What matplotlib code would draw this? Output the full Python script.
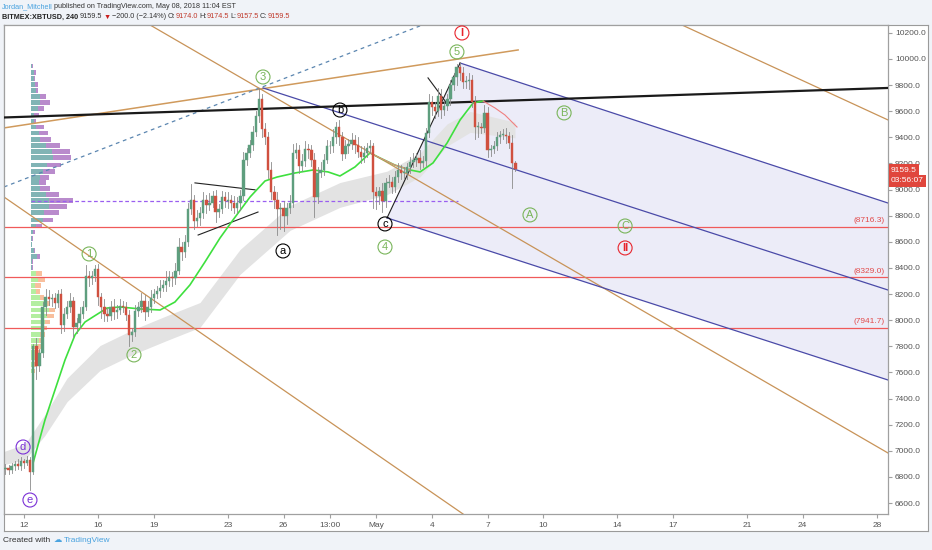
import matplotlib
matplotlib.use("Agg")
import matplotlib.pyplot as plt
from matplotlib.patches import Rectangle
import numpy as np

plt.rcParams["font.family"] = ["Liberation Sans Narrow", "Liberation Sans", "DejaVu Sans"]

# ---- data (x = days since Apr 12, y = price) ----
first_open = 6860
closes = [
    6870, 6850, 6880, 6900, 6880, 6920, 6910, 6930, 6840,
    7800, 7650, 7750, 8100, 8180, 8160, 8170, 8130, 8200, 7960,
    8050, 8100, 8150, 7950, 7980, 8050, 8100, 8340, 8320, 8340,
    8390, 8180, 8100, 8050, 8030, 8100, 8060, 8080, 8110, 8100,
    8040, 7890, 7910, 8070, 8100, 8150, 8060, 8100, 8170, 8200,
    8220, 8250, 8270, 8300, 8330, 8320, 8380, 8560, 8520, 8600,
    8850, 8920, 8760, 8780, 8820, 8920, 8880, 8900, 8950, 8830,
    8850, 8940, 8910, 8920, 8900, 8860, 8900, 8950, 9230, 9280,
    9340, 9440, 9560, 9690, 9460, 9400, 9150, 8980, 8920, 8850,
    8860, 8800, 8860, 8900, 9280, 9300, 9180, 9220, 9310, 9300,
    9230, 8940, 9130, 9150, 9230, 9330, 9330, 9400, 9480, 9400,
    9270, 9330, 9350, 9380, 9340, 9290, 9250, 9280, 9320, 9330,
    8980, 8950, 8990, 8910, 9050, 9060, 9020, 9100, 9150, 9130,
    9130, 9170, 9210, 9230, 9240, 9200, 9220, 9430, 9670, 9630,
    9600, 9720, 9610, 9640, 9690, 9800, 9860, 9940, 9890, 9820,
    9830, 9840, 9670, 9480, 9480, 9470, 9590, 9300, 9310, 9330,
    9400, 9420, 9420, 9410, 9360, 9200, 9159.5,
]
wick_up = [
    30, 20, 30, 20, 40, 30, 20, 30, 20,
    20, 60, 30, 40, 60, 50, 30, 40, 30, 40,
    40, 50, 60, 30, 40, 50, 50, 80, 40, 40,
    30, 40, 30, 60, 40, 50, 60, 40, 50, 40,
    40, 40, 30, 50, 40, 60, 40, 50, 60, 40,
    40, 60, 40, 80, 50, 40, 60, 70, 40, 50,
    50, 120, 40, 60, 50, 60, 40, 70, 40, 50,
    40, 50, 40, 60, 40, 50, 40, 50, 60, 40,
    40, 50, 40, 90, 40, 50, 40, 60, 50, 60,
    40, 50, 40, 60, 70, 60, 40, 50, 60, 40,
    40, 50, 40, 60, 40, 50, 40, 60, 40, 50,
    40, 50, 40, 50, 40, 60, 40, 50, 40, 50,
    30, 40, 30, 60, 40, 50, 40, 40, 50, 40,
    40, 30, 40, 50, 40, 60, 40, 40, 60, 50,
    40, 60, 50, 40, 40, 40, 30, 20, 40, 50,
    40, 50, 40, 50, 40, 30, 60, 40, 30, 40,
    40, 30, 40, 50, 30, 60, 20,
]
wick_lo = [
    40, 30, 20, 30, 20, 30, 40, 20, 140,
    20, 100, 40, 30, 60, 40, 50, 40, 30, 60,
    40, 30, 40, 80, 50, 40, 30, 20, 60, 40,
    40, 60, 80, 60, 40, 30, 50, 40, 30, 40,
    40, 90, 50, 30, 40, 40, 60, 30, 40, 40,
    30, 40, 30, 50, 40, 60, 40, 30, 60, 40,
    30, 40, 60, 40, 50, 40, 60, 40, 30, 80,
    40, 30, 40, 50, 60, 40, 40, 60, 30, 40,
    30, 40, 30, 40, 60, 50, 60, 50, 60, 200,
    150, 120, 60, 40, 30, 40, 50, 40, 40, 60,
    50, 150, 40, 30, 40, 30, 50, 40, 40, 60,
    40, 30, 50, 40, 60, 40, 50, 40, 30, 40,
    120, 100, 60, 80, 40, 30, 50, 40, 40, 50,
    40, 50, 40, 40, 50, 40, 30, 40, 30, 60,
    50, 40, 60, 40, 30, 40, 40, 60, 50, 40,
    40, 60, 40, 90, 80, 40, 30, 50, 40, 30,
    30, 40, 30, 50, 40, 185, 20,
]
last_day = 26.5  # May 8, 12:00 candle
candle_step = 1 / 6  # 4h

# EMA (green) and its falling (pink) stretches
ema_x = [0.49, 1.13, 1.67, 2.21, 2.75, 3.29, 3.72, 4.48, 5.18, 6.26, 7.34, 8.14,
         8.95, 9.76, 10.57, 11.27, 12.19, 13.0, 13.65, 14.62, 15.59, 16.4, 17.04,
         17.85, 18.66, 19.2, 20.0, 20.82, 21.36, 22.06, 22.82, 23.52, 24.22, 24.76]
ema_y = [6907, 7236, 7466, 7695, 7887, 7986, 8025, 8093, 8101, 8086, 8078, 8139,
         8270, 8446, 8629, 8767, 8943, 9066, 9096, 9127, 9150, 9135, 9104,
         9173, 9280, 9242, 9188, 9150, 9135, 9204, 9357, 9533, 9663, 9678]
pink_x = [24.76, 25.4, 25.94, 26.59]
pink_y = [9678, 9625, 9571, 9479]
pink2_x = [18.66, 19.2, 20.0, 20.82]
pink2_y = [9280, 9242, 9188, 9150]

# grey cloud band
band_x = [-1.08, 0.05, 1.13, 2.32, 4.10, 5.88, 7.71, 9.49, 11.65, 14.35, 17.04,
          19.58, 21.36, 22.82, 24.06, 26.48]
band_mid = [6945, 6991, 7198, 7466, 7711, 7833, 7940, 8040, 8446, 8783, 8959,
            9051, 9188, 9418, 9518, 9456]
band_half = [50, 60, 80, 90, 95, 95, 95, 95, 95, 95, 95, 90, 90, 85, 80, 60]

# volume profile rows
vp_price = [9946, 9893, 9847, 9801, 9755, 9709, 9663, 9617, 9571, 9525, 9479,
            9433, 9387, 9334, 9288, 9242, 9188, 9142, 9096, 9051, 9005, 8959,
            8913, 8867, 8821, 8767, 8721, 8675, 8629, 8583, 8537, 8491, 8446,
            8400]
vp_a = [1.0, 2.7, 2.7, 4.3, 5.3, 8.7, 9.3, 6.7, 3.3, 2.7, 5.3, 7.7, 9.3, 15.3,
        21, 21.7, 16, 12, 8.7, 7.7, 8.7, 15.3, 17.7, 17.7, 13.3, 12, 5.3, 2, 1.3,
        1, 2.7, 6, 1.3, 1.3]
vp_b = [0.7, 2.7, 1.7, 2.3, 1.3, 6.7, 10, 6.7, 4.3, 2.7, 8, 9.3, 11, 14, 18.3,
        18.7, 14.3, 11.7, 9, 7.7, 10.7, 13, 24.3, 18.3, 14.3, 9.7, 5.7, 1.7, 0.3,
        0.3, 1, 2.7, 0.7, 0.7]
vp2_price = [8361, 8315, 8269, 8216, 8170, 8124, 8078, 8032, 7986, 7940, 7894,
             7848, 7795, 7749, 7711, 7657, 7611]
vp2_a = [5.3, 6.7, 4.3, 5.3, 9.3, 16, 17.7, 16, 14.3, 12, 8.7, 7.7, 6.7, 5.3,
         4.3, 2.7, 1.7]
vp2_b = [5.7, 7, 5.7, 3.3, 3.3, 3.3, 6.7, 6.7, 4.3, 4, 5.7, 4.3, 4.3, 3.3, 2.3,
         2.7, 2]

levels = [8716.3, 8329.0, 7941.7]
poc_price = 8913

x_ticks = [0, 4, 7, 11, 14, 16.5, 19, 22, 25, 28, 32, 35, 39, 42, 46]
x_labels = ["12", "16", "19", "23", "26", "13:00", "May", "4", "7", "10", "14",
            "17", "21", "24", "28"]

wave_labels = [
    ("I", 23.62, 10199, "#e8242c"), ("5", 23.35, 10054, "#79b55a"),
    ("3", 12.89, 9862, "#79b55a"), ("b", 17.04, 9609, "black"),
    ("B", 29.13, 9587, "#79b55a"), ("A", 27.29, 8806, "#79b55a"),
    ("C", 32.42, 8721, "#79b55a"), ("II", 32.42, 8553, "#e8242c"),
    ("c", 19.47, 8737, "black"), ("4", 19.47, 8560, "#79b55a"),
    ("a", 13.97, 8530, "black"), ("1", 3.51, 8507, "#79b55a"),
    ("2", 5.93, 7734, "#79b55a"), ("d", -0.05, 7029, "#7a2fd6"),
    ("e", 0.32, 6623, "#7a2fd6"),
]

W, H = 932, 550
fig = plt.figure(figsize=(W / 100, H / 100), dpi=100)
fig.patch.set_facecolor("#f0f3f8")


def fx(px):
    return px / W


def fy(py):
    return 1 - py / H


# chart panel behind the axes
panel = fig.add_axes([fx(4), fy(531), fx(924), (531 - 25) / H], zorder=0)
panel.set_xticks([])
panel.set_yticks([])
panel.set_facecolor("white")
for s in panel.spines.values():
    s.set_color("#9a9a9a")

ax = fig.add_axes([fx(4), fy(514), fx(884), (514 - 25) / H], zorder=1)
XMIN, XMAX = -1.08, 46.6
YMIN, YMAX = 6516, 10260
ax.set_xlim(XMIN, XMAX)
ax.set_ylim(YMIN, YMAX)
ax.set_facecolor("white")
for s in ax.spines.values():
    s.set_color("#a0a0a0")
    s.set_linewidth(0.9)

# lavender channel
ax.fill([19.58, 23.52, XMAX, XMAX], [8783, 9969, 8897, 7542],
        color="#ececf8", zorder=0.5, lw=0)

# grey band
bx = np.array(band_x)
bm = np.array(band_mid)
bh = np.array(band_half)
ax.fill_between(bx, bm - bh, bm + bh, color="#e3e3e3", lw=0, zorder=1)

# volume profile (x in axes fraction)
vp_tr = ax.get_yaxis_transform()
x0 = (31 - 4) / 884
for p, a, b in zip(vp_price, vp_a, vp_b):
    ax.barh(p, a / 884, left=x0, height=38, color="#6ba7a8", alpha=0.85,
            transform=vp_tr, zorder=1.5)
    ax.barh(p, b / 884, left=x0 + a / 884, height=38, color="#a86ec0",
            alpha=0.8, transform=vp_tr, zorder=1.5)
for p, a, b in zip(vp2_price, vp2_a, vp2_b):
    ax.barh(p, a / 884, left=x0, height=38, color="#a6ec8f", alpha=0.85,
            transform=vp_tr, zorder=1.5)
    ax.barh(p, b / 884, left=x0 + a / 884, height=38, color="#f7b48c",
            alpha=0.85, transform=vp_tr, zorder=1.5)

# horizontal levels
for lv in levels:
    ax.axhline(lv, color="#f05a5a", lw=0.9, zorder=2)
    ax.text(XMAX - 0.2, lv + 18, f"({lv:.1f})", color="#e24b4b", fontsize=6,
            ha="right", va="bottom", zorder=6)
ax.plot([0.38, 23.4], [poc_price, poc_price], color="#9a5ff0", lw=0.9,
        ls=(0, (3, 2)), zorder=2)

# trend lines
ax.plot([XMIN, XMAX], [9552, 9778], color="#1a1a1a", lw=1.6, zorder=3)
ax.plot([XMIN, 26.65], [9472, 10069], color="#d09a5c", lw=1.1, zorder=2.5)
ax.plot([XMIN, 21.36], [9020, 10253], color="#5b86b0", lw=0.9,
        ls=(0, (3, 3)), zorder=2.5)
ax.plot([6.80, XMAX], [10260, 6983], color="#c89358", lw=0.9, zorder=2.5)
ax.plot([XMIN, 23.68], [8943, 6516], color="#c89358", lw=0.9, zorder=2.5)
ax.plot([35.49, XMAX], [10260, 9533], color="#c89358", lw=0.9, zorder=2.5)
ax.plot([23.52, XMAX], [9969, 8897], color="#4a4aa8", lw=0.9, zorder=2.5)
ax.plot([12.89, XMAX], [9778, 8231], color="#4a4aa8", lw=0.9, zorder=2.5)
ax.plot([19.58, XMAX], [8783, 7542], color="#4a4aa8", lw=0.9, zorder=2.5)
ax.plot([19.58, 23.52], [8783, 9969], color="#222222", lw=0.8, zorder=3)
ax.plot([9.22, 12.46], [9051, 8998], color="#222222", lw=0.8, zorder=3)
ax.plot([9.39, 12.62], [8652, 8828], color="#222222", lw=0.8, zorder=3)
ax.plot([21.79, 22.87], [9855, 9648], color="#222222", lw=0.8, zorder=3)

# EMA
ax.plot(ema_x, ema_y, color="#3ee03e", lw=1.2, zorder=3.5)
ax.plot(pink2_x, pink2_y, color="#f08080", lw=0.8, zorder=3.6)
ax.plot(pink_x, pink_y, color="#f08080", lw=0.8, zorder=3.5)

# candles
n = len(closes)
opens = [first_open] + closes[:-1]
xs = [last_day - (n - 1 - i) * candle_step for i in range(n)]
for x, o, c, wu, wl in zip(xs, opens, closes, wick_up, wick_lo):
    col = "#5e9e7e" if c >= o else "#d0503f"
    top, bot = max(o, c), min(o, c)
    ax.plot([x, x], [bot - wl, top + wu], color="#8a8a8a", lw=0.6, zorder=4)
    ax.add_patch(Rectangle((x - 0.065, bot), 0.13, max(top - bot, 6),
                           fc=col, ec=col, lw=0.3, zorder=4.2))

# wave labels
for txt, x, y, col in wave_labels:
    ax.text(x, y, txt, color=col, fontsize=8, ha="center", va="center",
            zorder=6, fontweight="bold" if txt in ("I", "II") else "normal",
            bbox=dict(boxstyle="circle,pad=0.18", fc="none", ec=col, lw=0.8))

# axes ticks
ax.yaxis.tick_right()
ax.set_yticks(range(6600, 10201, 200))
ax.set_yticklabels([f"{v:.1f}" for v in range(6600, 10201, 200)])
ax.tick_params(axis="y", labelsize=6, labelcolor="#555555", color="#a0a0a0",
               length=3, pad=2)
ax.set_xticks(x_ticks)
ax.set_xticklabels(x_labels)
ax.tick_params(axis="x", labelsize=6, labelcolor="#555555", color="#a0a0a0",
               length=3, pad=3)

# current price tags
fig.text(fx(891), fy(170), "9159.5", fontsize=6, color="white", va="center",
         zorder=5,
         bbox=dict(boxstyle="square,pad=0.25", fc="#e0463c", ec="none"))
fig.text(fx(891), fy(181), "03:56:07", fontsize=6, color="white",
         va="center", zorder=5,
         bbox=dict(boxstyle="square,pad=0.25", fc="#e0463c", ec="none"))

# header, pieces laid out one after another
renderer = fig.canvas.get_renderer()


def text_row(x_px, y_px, pieces, size):
    x = x_px
    for s, col, bold, gap in pieces:
        t = fig.text(fx(x), fy(y_px), s, color=col, fontsize=size,
                     va="center", fontweight="bold" if bold else "normal")
        x += t.get_window_extent(renderer).width + gap


dark = "#333333"
red = "#c0392b"
text_row(2, 7, [("Jordan_Mitchell", "#4aa3df", False, 1),
                ("published on TradingView.com, May 08, 2018 11:04 EST",
                 dark, False, 0)], 5.2)
text_row(2, 17, [("BITMEX:XBTUSD, 240", "#222222", True, 2),
                 ("9159.5", dark, False, 1.5),
                 ("\u25bc", "#c81e1e", False, 1),
                 ("\u2212200.0 (\u22122.14%)", dark, False, 1.5),
                 ("O:", dark, False, 0), ("9174.0", red, False, 1.5),
                 ("H:", dark, False, 0), ("9174.5", red, False, 1.5),
                 ("L:", dark, False, 0), ("9157.5", red, False, 1.5),
                 ("C:", dark, False, 0), ("9159.5", red, False, 0)], 5.2)

# footer
text_row(3, 540, [("Created with", "#333333", False, 3),
                  ("\u2601", "#4aa3df", False, 2),
                  ("TradingView", "#4aa3df", False, 0)], 6)

fig.savefig("out.png", dpi=100, facecolor=fig.get_facecolor())
